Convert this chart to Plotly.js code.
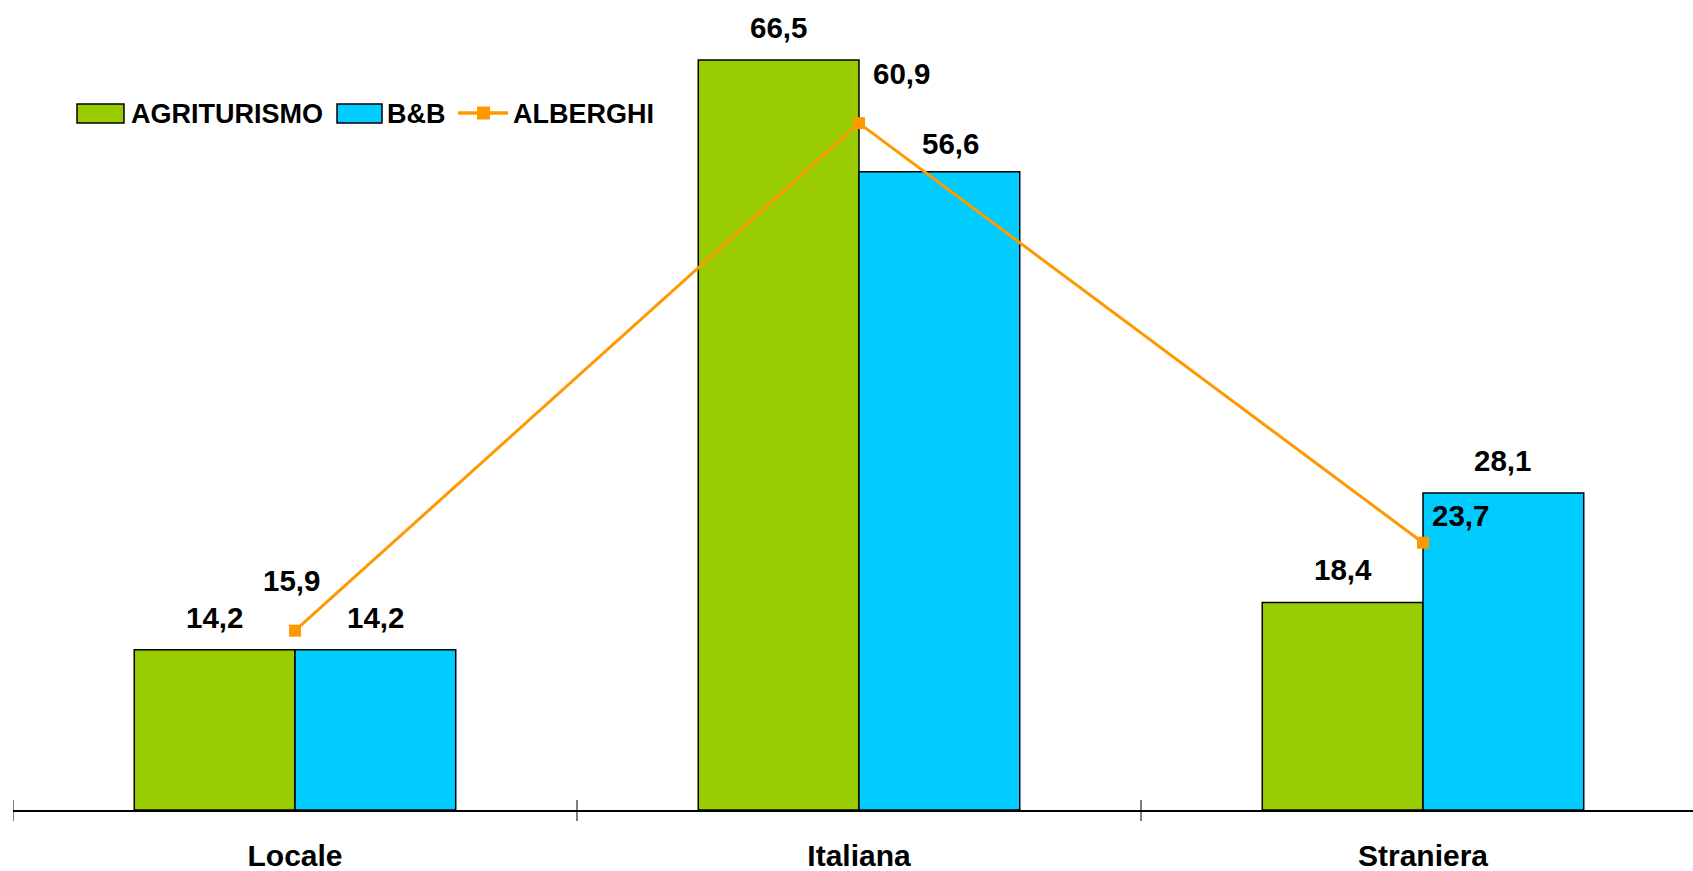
<!DOCTYPE html>
<html>
<head>
<meta charset="utf-8">
<script src="https://cdn.plot.ly/plotly-3.0.1.min.js"></script>
<style>
  html, body { margin: 0; padding: 0; background: #fff; }
  #chart { width: 1693px; height: 871px; }
</style>
</head>
<body>
<div id="chart"></div>
<script>
// ---- data ----
var categories = ['Locale', 'Italiana', 'Straniera'];
var agriturismo = [14.2, 66.5, 18.4];
var bnb = [14.2, 56.6, 28.1];
var alberghi = [15.9, 60.9, 23.7];
var seriesNames = ['AGRITURISMO', 'B&B', 'ALBERGHI'];

// ---- styling ----
var W = 1693, H = 871;
var M = {l: 13, r: 0, t: 0, b: 61};
var FONT = 'Liberation Sans, Arial, sans-serif';
var GREEN = '#99CC00', BLUE = '#00CCFF', ORANGE = '#FF9900';
var BARGAP = 0.43;
var barOff = (1 - BARGAP) / 4;
// label offsets (px): [dx, baseline gap above value]
var offAgri = [[0, 21], [0, 21], [0, 21.5]];
var offBnb = [[0, 21], [11.5, 16.7], [-1, 21]];
var offAlb = [[-4, 39], [42.5, 38], [37, 16]];
var LABEL_FS = 29.5;
var DESC = 0.212 * LABEL_FS + 1;

function fmt(v) { return v.toFixed(1).replace('.', ','); }
var pw = W - M.l - M.r, ph = H - M.t - M.b;
function px(x) { return (x - M.l) / pw; }
function py(y) { return 1 - (y - M.t) / ph; }

var traces = [
  {type: 'bar', name: seriesNames[0], x: categories, y: agriturismo,
   marker: {color: GREEN, line: {color: '#000', width: 1.5}}, hoverinfo: 'none'},
  {type: 'bar', name: seriesNames[1], x: categories, y: bnb,
   marker: {color: BLUE, line: {color: '#000', width: 1.5}}, hoverinfo: 'none'},
  {type: 'scatter', mode: 'lines+markers', name: seriesNames[2], x: categories, y: alberghi,
   line: {color: ORANGE, width: 3}, marker: {symbol: 'square', size: 12, color: ORANGE},
   hoverinfo: 'none'}
];

var annotations = [];
function addLabels(vals, dxIdx, offs) {
  vals.forEach(function (v, i) {
    annotations.push({
      x: i + dxIdx, y: v, xref: 'x', yref: 'y', text: fmt(v), showarrow: false,
      xanchor: 'center', yanchor: 'bottom',
      xshift: offs[i][0], yshift: offs[i][1] - DESC,
      font: {family: FONT, size: LABEL_FS, color: '#000', weight: 'bold'}
    });
  });
}
addLabels(agriturismo, -barOff, offAgri);
addLabels(bnb, barOff, offBnb);
addLabels(alberghi, 0, offAlb);

// custom legend
var shapes = [];
var LEG_FONT = {family: FONT, size: 27, color: '#000', weight: 'bold'};
function legBox(x0, x1, color) {
  shapes.push({type: 'rect', xref: 'paper', yref: 'paper',
    x0: px(x0), x1: px(x1), y0: py(123), y1: py(104),
    fillcolor: color, line: {color: '#000', width: 1.5}});
}
function legText(x, t) {
  annotations.push({xref: 'paper', yref: 'paper', x: px(x), y: py(114),
    xanchor: 'left', yanchor: 'middle', text: t, showarrow: false, font: LEG_FONT});
}
legBox(77, 124, GREEN); legText(129, seriesNames[0]);
legBox(337, 382, BLUE); legText(385, seriesNames[1]);
shapes.push({type: 'line', xref: 'paper', yref: 'paper', x0: px(458), x1: px(508),
  y0: py(113), y1: py(113), line: {color: ORANGE, width: 3.5}});
shapes.push({type: 'rect', xref: 'paper', yref: 'paper', x0: px(477), x1: px(490),
  y0: py(119.5), y1: py(106.5), fillcolor: ORANGE, line: {width: 0}});
legText(511, seriesNames[2]);

// category boundary ticks crossing the axis
[-0.5, 0.5, 1.5].forEach(function (b) {
  shapes.push({type: 'line', xref: 'x', yref: 'paper', x0: b, x1: b,
    y0: py(800), y1: py(821), line: {color: '#000', width: 1}});
});

var layout = {
  width: W, height: H,
  margin: M,
  paper_bgcolor: '#fff', plot_bgcolor: '#fff',
  barmode: 'group', bargap: BARGAP, bargroupgap: 0,
  showlegend: false,
  xaxis: {
    type: 'category', range: [-0.5, -0.5 + pw / 564],
    showline: true, linecolor: '#000', linewidth: 2,
    ticks: '', showgrid: false, zeroline: false,
    ticklabelstandoff: 18, automargin: false,
    tickfont: {family: FONT, size: 30, color: '#000', weight: 'bold'}
  },
  yaxis: {
    range: [0, ph / 11.278], visible: false, showgrid: false, zeroline: false,
    fixedrange: true
  },
  annotations: annotations,
  shapes: shapes
};

Plotly.newPlot('chart', traces, layout, {displayModeBar: false, staticPlot: true});
</script>
</body>
</html>
